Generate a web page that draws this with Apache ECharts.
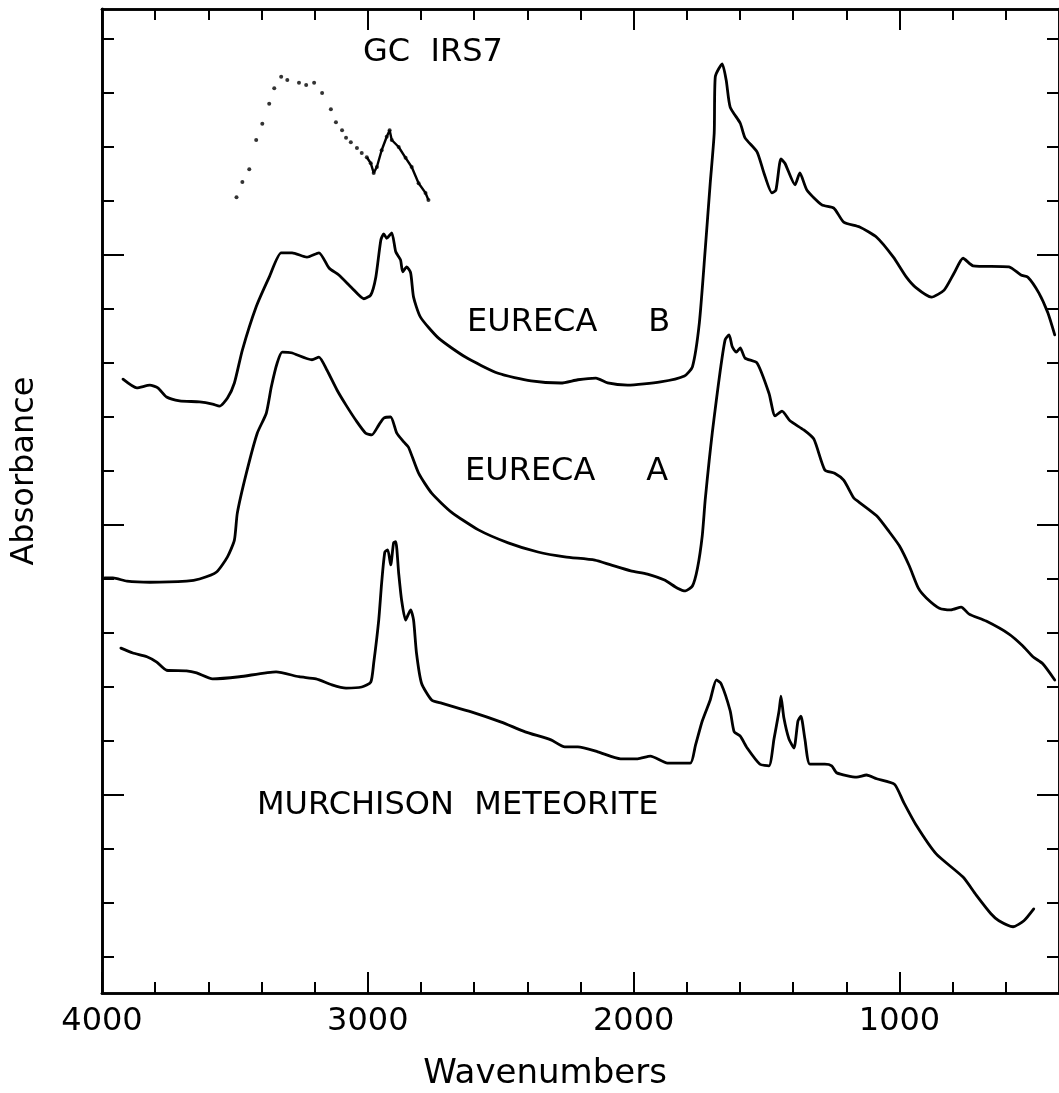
<!DOCTYPE html>
<html><head><meta charset="utf-8">
<script src="https://cdn.jsdelivr.net/npm/echarts@6/dist/echarts.min.js"></script>
<style>html,body{margin:0;padding:0;background:#fff}#c{width:1059px;height:1093px}</style>
</head><body><div id="c"></div>
<script>
// ---- tick values ----
const xMajorTicks = [4000, 3000, 2000, 1000];
const xMinorTicks = [3800, 3600, 3400, 3200, 2800, 2600, 2400, 2200, 1800, 1600, 1400, 1200, 800, 600];
const yMajorTicks = [3, 8, 13];
const yMinorTicks = [0, 1, 2, 4, 5, 6, 7, 9, 10, 11, 12, 14, 15, 16, 17];

// ---- EURECA B ----
const eurecaB_x = [3921,3869,3820,3790,3757,3708,3633,3584,3558,3528,3502,3472,3420,3371,3326,3285,3229,3184,3146,3109,3060,3015,2989,2970,2951,2940,2929,2910,2895,2877,2869,2854,2839,2828,2802,2734,2633,2510,2386,2274,2210,2142,2098,2023,1899,1809,1779,1753,1731,1712,1697,1693,1667,1652,1637,1599,1581,1536,1510,1480,1465,1446,1431,1393,1375,1348,1292,1247,1210,1150,1086,1023,974,937,880,832,794,761,723,588,543,517,476,442,416];
const eurecaB_y = [10.70,10.54,10.59,10.54,10.37,10.30,10.28,10.24,10.20,10.35,10.63,11.24,12.04,12.59,13.04,13.04,12.96,13.04,12.76,12.63,12.39,12.19,12.26,12.59,13.28,13.39,13.31,13.41,13.06,12.91,12.69,12.78,12.67,12.22,11.85,11.46,11.11,10.81,10.67,10.63,10.69,10.72,10.63,10.59,10.65,10.76,10.93,11.74,13.09,14.33,15.26,16.30,16.54,16.24,15.74,15.44,15.17,14.91,14.52,14.15,14.20,14.78,14.70,14.30,14.52,14.20,13.93,13.87,13.61,13.52,13.33,12.96,12.59,12.39,12.22,12.35,12.67,12.94,12.80,12.78,12.63,12.59,12.30,11.93,11.52];

// ---- EURECA A ----
const eurecaA_x = [3989,3959,3906,3820,3682,3633,3569,3528,3502,3491,3457,3416,3382,3363,3341,3322,3288,3210,3184,3154,3116,3082,3045,3008,2985,2959,2940,2914,2891,2865,2847,2809,2760,2686,2584,2472,2360,2259,2146,2086,2011,1948,1884,1835,1805,1779,1760,1742,1731,1716,1704,1689,1674,1656,1641,1629,1614,1599,1581,1536,1491,1468,1442,1412,1360,1322,1281,1244,1210,1172,1154,1086,1038,1000,963,929,899,850,806,768,738,674,588,536,498,461,416];
const eurecaA_y = [7.02,7.02,6.96,6.94,6.96,7.00,7.13,7.41,7.72,8.22,8.96,9.70,10.07,10.56,11.00,11.20,11.19,11.06,11.11,10.87,10.50,10.22,9.94,9.70,9.67,9.85,9.98,10.00,9.70,9.54,9.44,8.96,8.59,8.24,7.91,7.67,7.50,7.41,7.35,7.26,7.15,7.09,6.98,6.83,6.78,6.87,7.20,7.80,8.46,9.19,9.72,10.31,10.87,11.43,11.52,11.30,11.20,11.28,11.09,11.00,10.44,10.02,10.11,9.93,9.76,9.59,9.02,8.96,8.83,8.50,8.43,8.17,7.87,7.61,7.24,6.83,6.65,6.46,6.43,6.48,6.35,6.22,5.98,5.76,5.56,5.43,5.13];

// ---- Murchison meteorite ----
const murchison_x = [3929,3884,3831,3794,3757,3682,3644,3584,3483,3345,3259,3195,3135,3082,3023,2989,2978,2959,2948,2936,2925,2914,2903,2895,2884,2873,2858,2839,2828,2817,2798,2760,2723,2611,2498,2408,2311,2259,2210,2135,2049,1985,1937,1873,1787,1768,1742,1712,1689,1671,1637,1622,1599,1573,1525,1491,1472,1453,1446,1435,1416,1397,1382,1371,1356,1337,1281,1255,1236,1161,1124,1086,1019,985,937,862,761,712,656,626,573,532,495];
const murchison_y = [5.72,5.63,5.56,5.46,5.31,5.30,5.26,5.15,5.19,5.28,5.19,5.15,5.04,4.98,5.00,5.09,5.44,6.24,6.93,7.50,7.54,7.26,7.67,7.69,7.11,6.61,6.24,6.43,6.24,5.63,5.07,4.76,4.70,4.54,4.35,4.17,4.02,3.89,3.89,3.80,3.67,3.67,3.72,3.59,3.59,3.91,4.37,4.76,5.13,5.06,4.56,4.17,4.09,3.87,3.57,3.54,4.04,4.56,4.83,4.43,4.04,3.87,4.37,4.46,4.04,3.57,3.57,3.54,3.41,3.33,3.37,3.30,3.20,2.87,2.44,1.91,1.48,1.15,0.80,0.67,0.56,0.67,0.89];

// ---- GC IRS7 (dotted) ----
const irs7_x = [3494,3472,3446,3420,3397,3371,3352,3326,3303,3259,3232,3202,3172,3139,3120,3097,3082,3064,3041,3023,3004,2989,2978,2966,2948,2929,2918,2910,2884,2858,2835,2809,2783,2772];
const irs7_y = [14.07,14.35,14.59,15.13,15.43,15.80,16.09,16.30,16.24,16.19,16.15,16.19,16.00,15.70,15.46,15.31,15.17,15.09,14.98,14.89,14.81,14.70,14.52,14.63,14.94,15.19,15.31,15.13,15.00,14.80,14.63,14.33,14.15,14.02];

const labels = {
  irs7: 'GC  IRS7', b: 'EURECA     B', a: 'EURECA     A', m: 'MURCHISON  METEORITE',
  xTitle: 'Wavenumbers', yTitle: 'Absorbance'
};

const zip = (xs, ys) => xs.map((x, i) => [x, ys[i]]);
const FONT = 'DejaVu Sans';
const Y_MIN = -0.667, Y_MAX = 17.556;

function xAx(pos, ticks, len, withLabels) {
  return {
    type: 'value', position: pos, min: 400, max: 4000, inverse: true,
    axisLine: { show: true, onZero: false, lineStyle: { color: '#000', width: 2.6 } },
    axisTick: { show: true, inside: true, length: len, customValues: ticks, lineStyle: { color: '#000', width: 2 } },
    axisLabel: withLabels ? { show: true, customValues: ticks, formatter: v => String(v), color: '#000', fontSize: 32, fontFamily: FONT, margin: 13 } : { show: false },
    splitLine: { show: false }
  };
}
function yAx(pos, ticks, len) {
  return {
    type: 'value', position: pos, min: Y_MIN, max: Y_MAX,
    axisLine: { show: true, onZero: false, lineStyle: { color: '#000', width: 2.6 } },
    axisTick: { show: true, inside: true, length: len, customValues: ticks, lineStyle: { color: '#000', width: 2 } },
    axisLabel: { show: false },
    splitLine: { show: false }
  };
}

const chart = echarts.init(document.getElementById('c'), null, { renderer: 'canvas' });
const lineStyle = { color: '#000', width: 2.8, join: 'round', cap: 'round' };
const txt = (x, y, text, size, align, extra) => Object.assign({
  type: 'text', x, y,
  style: { text, font: size + 'px "' + FONT + '"', fill: '#000', textAlign: align, textVerticalAlign: 'middle' }
}, extra || {});
chart.setOption({
  animation: false,
  backgroundColor: '#fff',
  grid: { left: 102, top: 9, width: 961, height: 984, containLabel: false },
  xAxis: [
    xAx('bottom', xMajorTicks, 21, true),
    xAx('bottom', xMinorTicks, 11, false),
    xAx('top', xMajorTicks, 21, false),
    xAx('top', xMinorTicks, 11, false)
  ],
  yAxis: [
    yAx('left', yMinorTicks, 12),
    yAx('left', yMajorTicks, 22),
    yAx('right', yMinorTicks, 12),
    yAx('right', yMajorTicks, 22)
  ],
  series: [
    { name: 'EURECA B', type: 'line', data: zip(eurecaB_x, eurecaB_y), showSymbol: false, smooth: 0.2, lineStyle, clip: true },
    { name: 'EURECA A', type: 'line', data: zip(eurecaA_x, eurecaA_y), showSymbol: false, smooth: 0.2, lineStyle, clip: true },
    { name: 'Murchison', type: 'line', data: zip(murchison_x, murchison_y), showSymbol: false, smooth: 0.2, lineStyle, clip: true },
    { name: 'GC IRS7', type: 'scatter', data: zip(irs7_x, irs7_y), symbolSize: 4, itemStyle: { color: '#000' } },
    { name: 'GC IRS7 dense', type: 'line', data: zip(irs7_x.slice(20), irs7_y.slice(20)), showSymbol: false, lineStyle: { color: '#000', width: 2.4 } }
  ],
  graphic: [
    txt(363, 53, labels.irs7, 32, 'left'),
    txt(467, 323, labels.b, 32, 'left'),
    txt(465, 472, labels.a, 32, 'left'),
    txt(257, 806, labels.m, 32, 'left'),
    txt(545, 1074, labels.xTitle, 34, 'center'),
    txt(25, 471, labels.yTitle, 32, 'center', { rotation: Math.PI / 2 })
  ]
});
</script>
</body></html>
